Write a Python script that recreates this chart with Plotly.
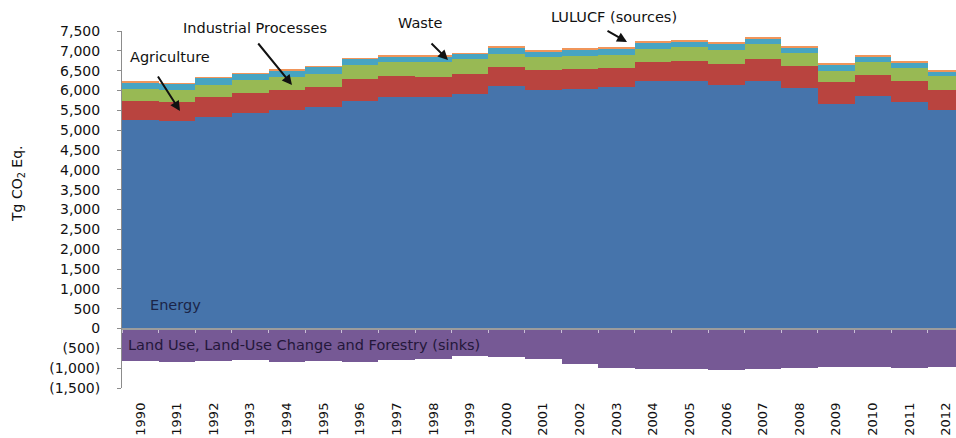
import plotly.graph_objects as go

years = [str(y) for y in range(1990, 2013)]

# Tg CO2 Eq.
energy = [5250, 5222, 5332, 5433, 5516, 5584, 5743, 5827, 5836, 5919, 6110, 6020,
          6045, 6078, 6229, 6245, 6146, 6247, 6063, 5668, 5852, 5700, 5516]
agriculture = [480, 488, 495, 504, 487, 504, 547, 528, 510, 504, 485, 487,
               496, 488, 489, 505, 529, 546, 544, 536, 546, 529, 504]
industrial = [320, 310, 319, 335, 337, 327, 360, 353, 385, 370, 335, 327,
              336, 336, 335, 335, 353, 386, 337, 277, 310, 337, 335]
waste = [155, 155, 170, 155, 168, 178, 152, 152, 125, 131, 150, 145,
         146, 150, 150, 148, 145, 120, 152, 166, 140, 150, 130]
lulucf_sources = [14, 13, 15, 13, 16, 15, 16, 17, 18, 20, 35, 24,
                  30, 34, 34, 28, 39, 39, 32, 28, 29, 35, 39]
lulucf_sinks = [-831, -835, -810, -805, -845, -825, -840, -805, -760, -690, -715, -765,
                -905, -990, -1030, -1031, -1045, -1015, -990, -980, -980, -985, -979]

y_ticks = list(range(-1500, 7501, 500))
y_tick_text = [f"({abs(v):,})" if v < 0 else f"{v:,}" for v in y_ticks]

FONT = "DejaVu Sans"

# plot area in pixels (used to place the labels and arrows)
L, R, T, B = 122, 956, 31, 388


def paper(x, y):
    return (x - L) / (R - L), (B - y) / (B - T)


fig = go.Figure()

series = [
    ("Energy", energy, "#4674AB"),
    ("Agriculture", agriculture, "#B9443F"),
    ("Industrial Processes", industrial, "#98B954"),
    ("Waste", waste, "#47A4C2"),
    ("LULUCF (sources)", lulucf_sources, "#F0955A"),
    ("LULUCF (sinks)", lulucf_sinks, "#765995"),
]
for name, vals, color in series:
    fig.add_trace(go.Bar(
        x=years, y=vals, name=name,
        marker=dict(color=color, line=dict(width=0)),
    ))

# category axis drawn at zero, like the original
fig.update_layout(
    width=956, height=438,
    margin=dict(l=L, r=956 - R, t=T, b=438 - B),
    paper_bgcolor="white", plot_bgcolor="white",
    barmode="relative", bargap=0,
    showlegend=False,
    font=dict(family=FONT, size=14, color="#222"),
    xaxis=dict(
        type="category", range=[-0.5, 22.27],
        anchor="free", position=1500 / 9000,
        showticklabels=False,
        showline=True, linecolor="#9c9c9c", linewidth=2,
        ticks="outside", tickson="boundaries", ticklen=3, tickcolor="#c9bfd6",
        showgrid=False, layer="above traces",
    ),
    xaxis2=dict(
        overlaying="x", anchor="y", side="bottom",
        range=[-0.5, 22.27],
        tickmode="array", tickvals=list(range(len(years))), ticktext=years,
        tickangle=-90, tickfont=dict(family=FONT, size=13, color="#111"),
        ticks="", ticklabelstandoff=11,
        showline=False, showgrid=False, zeroline=False,
    ),
    yaxis=dict(
        range=[-1500, 7500],
        tickmode="array", tickvals=y_ticks, ticktext=y_tick_text,
        tickfont=dict(family=FONT, size=14, color="#111"),
        showline=True, linecolor="#8c8c8c", linewidth=1,
        ticks="outside", ticklen=4, tickcolor="#8c8c8c",
        ticklabelstandoff=14,
        showgrid=False, zeroline=False,
    ),
)

# invisible trace so xaxis2 renders
fig.add_trace(go.Scatter(x=[], y=[], xaxis="x2", yaxis="y", showlegend=False))

labels = [
    ("Agriculture", 170, 57, "#111"),
    ("Industrial Processes", 255, 28, "#111"),
    ("Waste", 420, 23, "#111"),
    ("LULUCF (sources)", 614, 17, "#111"),
    ("Energy", 175, 305, "#1b2548"),
]
for text, x, y, color in labels:
    px_, py_ = paper(x, y)
    fig.add_annotation(x=px_, y=py_, xref="paper", yref="paper", text=text,
                       xanchor="center", yanchor="middle", showarrow=False,
                       font=dict(family=FONT, size=14.5, color=color))

sx, sy = paper(126, 345)
fig.add_annotation(x=sx, y=sy, xref="paper", yref="paper", xanchor="left", yanchor="middle",
                   text="Land Use, Land-Use Change and Forestry (sinks)",
                   showarrow=False, font=dict(family=FONT, size=14.5, color="#24173a"))

arrows = [
    ((157, 75), (180, 111)),
    ((257, 42), (292, 85)),
    ((430, 42), (448, 60)),
    ((606, 30), (627, 42)),
]
for (x0, y0), (x1, y1) in arrows:
    hx, hy = paper(x1, y1)
    fig.add_annotation(x=hx, y=hy, xref="paper", yref="paper", text="",
                       showarrow=True, arrowhead=2, arrowsize=1, arrowwidth=2,
                       arrowcolor="#111", ax=x0 - x1, ay=y0 - y1)

tx, ty = paper(18, 184)
fig.add_annotation(x=tx, y=ty, xref="paper", yref="paper", text="Tg CO<sub>2</sub> Eq.",
                   xanchor="center", yanchor="middle", textangle=-90, showarrow=False,
                   font=dict(family=FONT, size=14, color="#111"))

fig.write_html("out.html", config={"displayModeBar": False},
               post_script="document.body.style.margin='0px';")
